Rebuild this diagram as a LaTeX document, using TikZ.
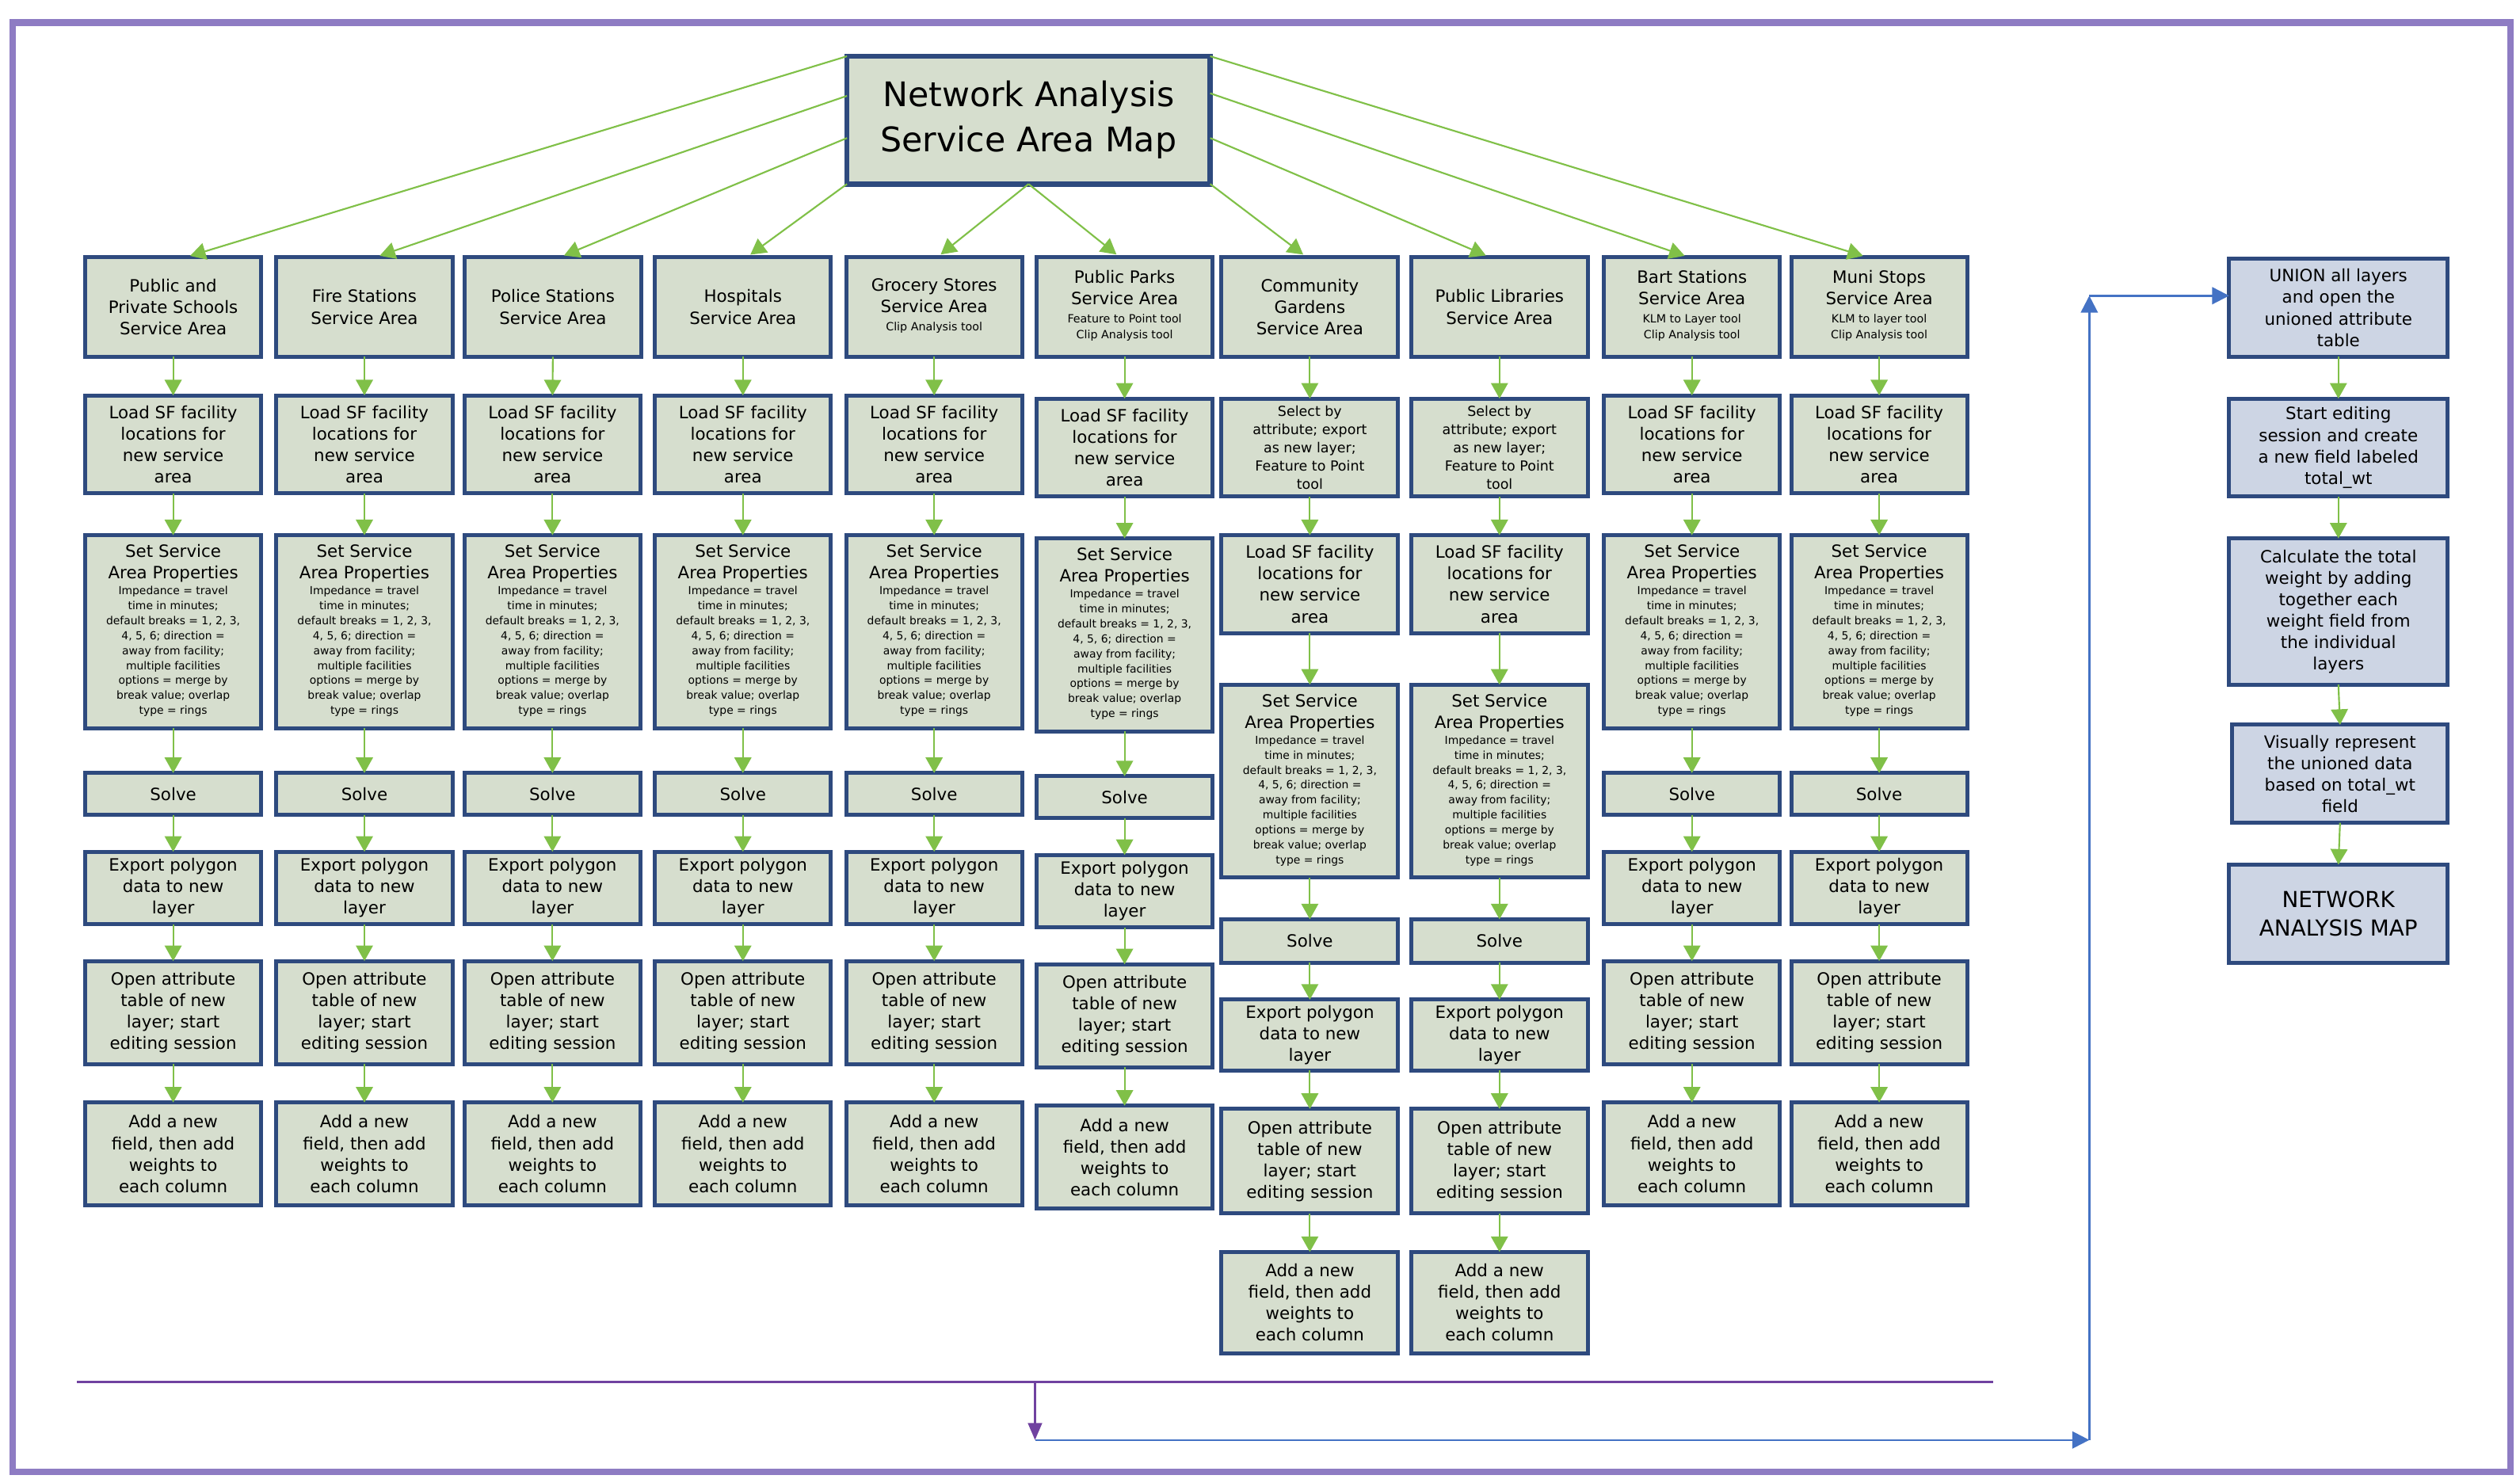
\documentclass[tikz,border=0pt]{standalone}
\usepackage{fontspec}
\setmainfont{DejaVu Sans}
\usetikzlibrary{arrows.meta,calc}
\definecolor{sage}{RGB}{214,222,206}
\definecolor{bluefill}{RGB}{205,213,228}
\definecolor{navy}{RGB}{46,74,126}
\definecolor{agreen}{RGB}{128,192,72}
\definecolor{framepurple}{RGB}{142,124,195}
\definecolor{lpurple}{RGB}{112,66,160}
\definecolor{ablue}{RGB}{68,114,196}
\newcommand\bxn[7]{\node[#1, minimum width={((#4)-(#2))*0.02cm}, minimum height={((#5)-(#3))*0.02cm}] (#6) at ({((#2)+(#4))/2},{((#3)+(#5))/2}) {#7};}
\newcommand\setdet{{\fontsize{3.9}{5.3}\selectfont\begin{tabular}[t]{@{}c@{}}Impedance = travel\\time in minutes;\\default breaks = 1, 2, 3,\\4, 5, 6; direction =\\away from facility;\\multiple facilities\\options = merge by\\break value; overlap\\type = rings\end{tabular}}}
\newcommand\tools[1]{{\fontsize{4}{5.6}\selectfont\begin{tabular}[t]{@{}c@{}}#1\end{tabular}}}
\begin{document}
\begin{tikzpicture}[x=0.02cm,y=-0.02cm,
  box/.style={draw=navy, line width=1.4pt, fill=sage, inner sep=0pt, outer sep=0pt, align=center, text=black, font=\fontsize{6}{7.6}\selectfont},
  ubox/.style={box, fill=bluefill},
  selbox/.style={box, font=\fontsize{4.9}{6.5}\selectfont},
  titlebox/.style={box, line width=1.8pt, font=\fontsize{12}{16}\selectfont},
  mapbox/.style={ubox, font=\fontsize{7.8}{10.2}\selectfont},
  garrow/.style={draw=agreen, line width=0.6pt, -{Triangle[length=5.5pt,width=6pt]}},
  darrow/.style={garrow, shorten >=1.5pt},
  barrow/.style={draw=ablue, line width=0.7pt, -{Triangle[length=6pt,width=6pt]}},
  parrow/.style={draw=lpurple, line width=0.6pt, -{Triangle[length=6pt,width=5pt]}}]
\useasboundingbox (0,0) rectangle (1568,920);
\draw[framepurple, line width=2.3pt] (8,14) rectangle (1562,916);

% title
\bxn{titlebox}{527}{35}{753}{114.5}{top}{Network Analysis\\Service Area Map}

% headers
\bxn{box}{53}{160}{162.5}{222}{h1}{Public and\\Private Schools\\Service Area}
\bxn{box}{172}{160}{281.5}{222}{h2}{Fire Stations\\Service Area}
\bxn{box}{289}{160}{399}{222}{h3}{Police Stations\\Service Area}
\bxn{box}{407.5}{160}{517}{222}{h4}{Hospitals\\Service Area}
\bxn{box}{526.5}{160}{636}{222}{h5}{Grocery Stores\\Service Area\\[-1.1pt]\tools{Clip Analysis tool}}
\bxn{box}{645}{160}{754.5}{222}{h6}{Public Parks\\Service Area\\[-1.1pt]\tools{Feature to Point tool\\Clip Analysis tool}}
\bxn{box}{760}{160}{870}{222}{h7}{Community\\Gardens\\Service Area}
\bxn{box}{878}{160}{988}{222}{h8}{Public Libraries\\Service Area}
\bxn{box}{998}{160}{1107.5}{222}{h9}{Bart Stations\\Service Area\\[-1.1pt]\tools{KLM to Layer tool\\Clip Analysis tool}}
\bxn{box}{1114.5}{160}{1224}{222}{h10}{Muni Stops\\Service Area\\[-1.1pt]\tools{KLM to layer tool\\Clip Analysis tool}}

% regular columns
\foreach \i/\x/\d in {1/53/0,2/172/0,3/289/0,4/407.5/0,5/526.5/0,6/645/2,9/998/0,10/1114.5/0}{
  \bxn{box}{\x}{246+\d}{\x+109.5}{307+\d}{ld\i}{Load SF facility\\locations for\\new service\\area}
  \bxn{box}{\x}{333+\d}{\x+109.5}{453+\d}{st\i}{Set Service\\Area Properties\\[-2pt]\setdet}
  \bxn{box}{\x}{481+\d}{\x+109.5}{507+\d}{sv\i}{Solve}
  \bxn{box}{\x}{530+\d}{\x+109.5}{575+\d}{ex\i}{Export polygon\\data to new\\layer}
  \bxn{box}{\x}{598+\d}{\x+109.5}{662+\d}{op\i}{Open attribute\\table of new\\layer; start\\editing session}
  \bxn{box}{\x}{686+\d}{\x+109.5}{750+\d}{ad\i}{Add a new\\field, then add\\weights to\\each column}
  \draw[garrow] (h\i.south) -- (ld\i.north);
  \draw[garrow] (ld\i.south) -- (st\i.north);
  \draw[garrow] (st\i.south) -- (sv\i.north);
  \draw[garrow] (sv\i.south) -- (ex\i.north);
  \draw[garrow] (ex\i.south) -- (op\i.north);
  \draw[garrow] (op\i.south) -- (ad\i.north);
}

% columns with selection step
\foreach \i/\x in {7/760,8/878}{
  \bxn{selbox}{\x}{248}{\x+110}{309}{se\i}{Select by\\attribute; export\\as new layer;\\Feature to Point\\tool}
  \bxn{box}{\x}{333}{\x+110}{394}{ld\i}{Load SF facility\\locations for\\new service\\area}
  \bxn{box}{\x}{426}{\x+110}{546}{st\i}{Set Service\\Area Properties\\[-2pt]\setdet}
  \bxn{box}{\x}{572}{\x+110}{599}{sv\i}{Solve}
  \bxn{box}{\x}{622}{\x+110}{666}{ex\i}{Export polygon\\data to new\\layer}
  \bxn{box}{\x}{690}{\x+110}{755}{op\i}{Open attribute\\table of new\\layer; start\\editing session}
  \bxn{box}{\x}{779}{\x+110}{842}{ad\i}{Add a new\\field, then add\\weights to\\each column}
  \draw[garrow] (h\i.south) -- (se\i.north);
  \draw[garrow] (se\i.south) -- (ld\i.north);
  \draw[garrow] (ld\i.south) -- (st\i.north);
  \draw[garrow] (st\i.south) -- (sv\i.north);
  \draw[garrow] (sv\i.south) -- (ex\i.north);
  \draw[garrow] (ex\i.south) -- (op\i.north);
  \draw[garrow] (op\i.south) -- (ad\i.north);
}

% union column
\bxn{ubox}{1387}{161}{1523}{222}{un1}{UNION all layers\\and open the\\unioned attribute\\table}
\bxn{ubox}{1387}{248}{1523}{309}{un2}{Start editing\\session and create\\a new field labeled\\total\_wt}
\bxn{ubox}{1387}{335}{1523}{426}{un3}{Calculate the total\\weight by adding\\together each\\weight field from\\the individual\\layers}
\bxn{ubox}{1389}{451}{1523}{512}{un4}{Visually represent\\the unioned data\\based on total\_wt\\field}
\bxn{mapbox}{1387}{538}{1523}{599}{un5}{NETWORK\\ANALYSIS MAP}
\draw[garrow] (un1.south) -- (un2.north);
\draw[garrow] (un2.south) -- (un3.north);
\draw[garrow] (un3.south) -- (un4.north);
\draw[garrow] (un4.south) -- (un5.north);

% arrows from title
\draw[darrow] (top.north west) -- ([xshift=0.16cm]h1.north);
\draw[darrow] ($(top.north west)!0.31!(top.south west)$) -- ([xshift=0.14cm]h2.north);
\draw[darrow] ($(top.north west)!0.64!(top.south west)$) -- ([xshift=0.09cm]h3.north);
\draw[darrow] (top.south west) -- ([xshift=0.05cm]h4.north);
\draw[darrow] (top.south) -- ([xshift=0.04cm]h5.north);
\draw[darrow] (top.south) -- ([xshift=-0.06cm]h6.north);
\draw[darrow] (top.south east) -- ([xshift=-0.04cm]h7.north);
\draw[darrow] ($(top.north east)!0.64!(top.south east)$) -- ([xshift=-0.12cm]h8.north);
\draw[darrow] ($(top.north east)!0.29!(top.south east)$) -- ([xshift=-0.04cm]h9.north);
\draw[darrow] (top.north east) -- ([xshift=-0.15cm]h10.north);

% bottom connectors
\coordinate (la) at (48,860);
\coordinate (lb) at (1240,860);
\coordinate (pa) at (644,860);
\coordinate (pb) at (644,896);
\coordinate (pc) at (1300,896);
\coordinate (pd) at (1300,184);
\draw[lpurple, line width=1pt] (la) -- (lb);
\draw[parrow] (pa) -- (pb);
\draw[barrow] (pb) -- (pc);
\draw[barrow] (pc) -- (pd);
\draw[barrow] (pd) -- (pd -| un1.west);
\end{tikzpicture}
\end{document}
